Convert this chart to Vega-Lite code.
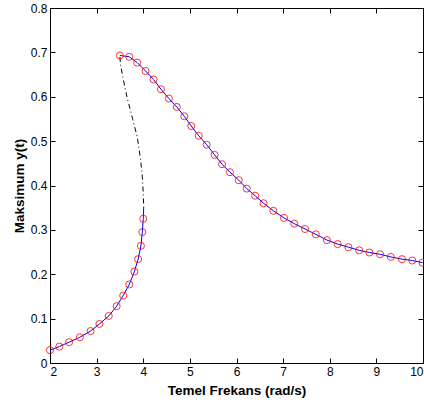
{
  "$schema": "https://vega.github.io/schema/vega-lite/v6.json",
  "width": 373,
  "height": 355,
  "autosize": {"type": "none"},
  "padding": {"left": 50, "top": 8, "right": 1, "bottom": 49},
  "background": "white",
  "config": {
    "view": {"stroke": "black", "strokeWidth": 1},
    "axis": {
      "grid": false,
      "domainColor": "black",
      "tickColor": "black",
      "tickSize": -5,
      "labelPadding": 8,
      "labelFont": "Liberation Sans",
      "labelFontSize": 12,
      "labelColor": "black",
      "titleFont": "Liberation Sans",
      "titleFontSize": 13.5,
      "titleFontWeight": "bold",
      "titleColor": "black"
    }
  },
  "data": {
    "values": [
      {"s": "lower", "i": 1, "x": 2.0, "y": 0.029, "m": 1},
      {"s": "lower", "i": 2, "x": 2.2, "y": 0.037, "m": 1},
      {"s": "lower", "i": 3, "x": 2.41, "y": 0.047, "m": 1},
      {"s": "lower", "i": 4, "x": 2.64, "y": 0.058, "m": 1},
      {"s": "lower", "i": 5, "x": 2.87, "y": 0.072, "m": 1},
      {"s": "lower", "i": 6, "x": 3.06, "y": 0.088, "m": 1},
      {"s": "lower", "i": 7, "x": 3.26, "y": 0.106, "m": 1},
      {"s": "lower", "i": 8, "x": 3.43, "y": 0.128, "m": 1},
      {"s": "lower", "i": 9, "x": 3.57, "y": 0.152, "m": 1},
      {"s": "lower", "i": 10, "x": 3.70, "y": 0.177, "m": 1},
      {"s": "lower", "i": 11, "x": 3.81, "y": 0.206, "m": 1},
      {"s": "lower", "i": 12, "x": 3.89, "y": 0.234, "m": 1},
      {"s": "lower", "i": 13, "x": 3.95, "y": 0.264, "m": 1},
      {"s": "lower", "i": 14, "x": 3.98, "y": 0.295, "m": 1},
      {"s": "lower", "i": 15, "x": 4.0, "y": 0.325, "m": 1},
      {"s": "lower", "i": 16, "x": 4.01, "y": 0.352, "m": 0},
      {"s": "unstable", "i": 1, "x": 3.50, "y": 0.690, "m": 0},
      {"s": "unstable", "i": 2, "x": 3.51, "y": 0.675, "m": 0},
      {"s": "unstable", "i": 3, "x": 3.56, "y": 0.645, "m": 0},
      {"s": "unstable", "i": 4, "x": 3.65, "y": 0.600, "m": 0},
      {"s": "unstable", "i": 5, "x": 3.77, "y": 0.551, "m": 0},
      {"s": "unstable", "i": 6, "x": 3.87, "y": 0.510, "m": 0},
      {"s": "unstable", "i": 7, "x": 3.94, "y": 0.461, "m": 0},
      {"s": "unstable", "i": 8, "x": 3.98, "y": 0.420, "m": 0},
      {"s": "unstable", "i": 9, "x": 4.0, "y": 0.382, "m": 0},
      {"s": "unstable", "i": 10, "x": 4.01, "y": 0.352, "m": 0},
      {"s": "upper", "i": 1, "x": 3.50, "y": 0.693, "m": 1},
      {"s": "upper", "i": 2, "x": 3.70, "y": 0.690, "m": 1},
      {"s": "upper", "i": 3, "x": 3.87, "y": 0.677, "m": 1},
      {"s": "upper", "i": 4, "x": 4.05, "y": 0.658, "m": 1},
      {"s": "upper", "i": 5, "x": 4.22, "y": 0.639, "m": 1},
      {"s": "upper", "i": 6, "x": 4.38, "y": 0.617, "m": 1},
      {"s": "upper", "i": 7, "x": 4.55, "y": 0.596, "m": 1},
      {"s": "upper", "i": 8, "x": 4.72, "y": 0.577, "m": 1},
      {"s": "upper", "i": 9, "x": 4.88, "y": 0.556, "m": 1},
      {"s": "upper", "i": 10, "x": 5.03, "y": 0.534, "m": 1},
      {"s": "upper", "i": 11, "x": 5.19, "y": 0.512, "m": 1},
      {"s": "upper", "i": 12, "x": 5.36, "y": 0.492, "m": 1},
      {"s": "upper", "i": 13, "x": 5.53, "y": 0.469, "m": 1},
      {"s": "upper", "i": 14, "x": 5.69, "y": 0.448, "m": 1},
      {"s": "upper", "i": 15, "x": 5.86, "y": 0.430, "m": 1},
      {"s": "upper", "i": 16, "x": 6.05, "y": 0.412, "m": 1},
      {"s": "upper", "i": 17, "x": 6.22, "y": 0.393, "m": 1},
      {"s": "upper", "i": 18, "x": 6.40, "y": 0.377, "m": 1},
      {"s": "upper", "i": 19, "x": 6.58, "y": 0.360, "m": 1},
      {"s": "upper", "i": 20, "x": 6.79, "y": 0.343, "m": 1},
      {"s": "upper", "i": 21, "x": 7.02, "y": 0.327, "m": 1},
      {"s": "upper", "i": 22, "x": 7.24, "y": 0.314, "m": 1},
      {"s": "upper", "i": 23, "x": 7.47, "y": 0.302, "m": 1},
      {"s": "upper", "i": 24, "x": 7.70, "y": 0.290, "m": 1},
      {"s": "upper", "i": 25, "x": 7.94, "y": 0.277, "m": 1},
      {"s": "upper", "i": 26, "x": 8.17, "y": 0.268, "m": 1},
      {"s": "upper", "i": 27, "x": 8.40, "y": 0.261, "m": 1},
      {"s": "upper", "i": 28, "x": 8.63, "y": 0.254, "m": 1},
      {"s": "upper", "i": 29, "x": 8.85, "y": 0.249, "m": 1},
      {"s": "upper", "i": 30, "x": 9.08, "y": 0.245, "m": 1},
      {"s": "upper", "i": 31, "x": 9.31, "y": 0.239, "m": 1},
      {"s": "upper", "i": 32, "x": 9.55, "y": 0.234, "m": 1},
      {"s": "upper", "i": 33, "x": 9.77, "y": 0.231, "m": 1},
      {"s": "upper", "i": 34, "x": 9.99, "y": 0.226, "m": 1}
    ]
  },
  "layer": [
    {
      "transform": [{"filter": "datum.s === 'unstable'"}],
      "mark": {"type": "line", "color": "black", "strokeWidth": 1, "strokeDash": [5, 3, 1, 3]},
      "encoding": {
        "x": {"field": "x", "type": "quantitative", "scale": {"domain": [2, 10], "nice": false}, "title": "Temel Frekans (rad/s)", "axis": {"values": [2,3,4,5,6,7,8,9,10], "titlePadding": 6}},
        "y": {"field": "y", "type": "quantitative", "scale": {"domain": [0, 0.8], "nice": false}, "title": "Maksimum y(t)", "axis": {"values": [0,0.1,0.2,0.3,0.4,0.5,0.6,0.7,0.8], "format": "~g"}},
        "order": {"field": "i"}
      }
    },
    {
      "transform": [{"filter": "datum.s !== 'unstable'"}],
      "mark": {"type": "line", "color": "#0000ff", "strokeWidth": 1},
      "encoding": {
        "x": {"field": "x", "type": "quantitative", "axis": null},
        "y": {"field": "y", "type": "quantitative", "axis": null},
        "detail": {"field": "s"},
        "order": {"field": "i"}
      }
    },
    {
      "transform": [{"filter": "datum.m === 1"}],
      "mark": {"type": "point", "shape": "circle", "filled": false, "color": "#ff0000", "strokeWidth": 1, "size": 50, "opacity": 0.8},
      "encoding": {
        "x": {"field": "x", "type": "quantitative", "axis": null},
        "y": {"field": "y", "type": "quantitative", "axis": null}
      }
    },
    {
      "mark": {"type": "rule", "opacity": 0},
      "encoding": {
        "x": {"datum": 2, "type": "quantitative", "axis": {"orient": "top", "labels": false, "title": null, "values": [2,3,4,5,6,7,8,9,10]}},
        "y": {"datum": 0, "type": "quantitative", "axis": {"orient": "right", "labels": false, "title": null, "values": [0,0.1,0.2,0.3,0.4,0.5,0.6,0.7,0.8]}}
      }
    }
  ],
  "resolve": {"axis": {"x": "independent", "y": "independent"}}
}
